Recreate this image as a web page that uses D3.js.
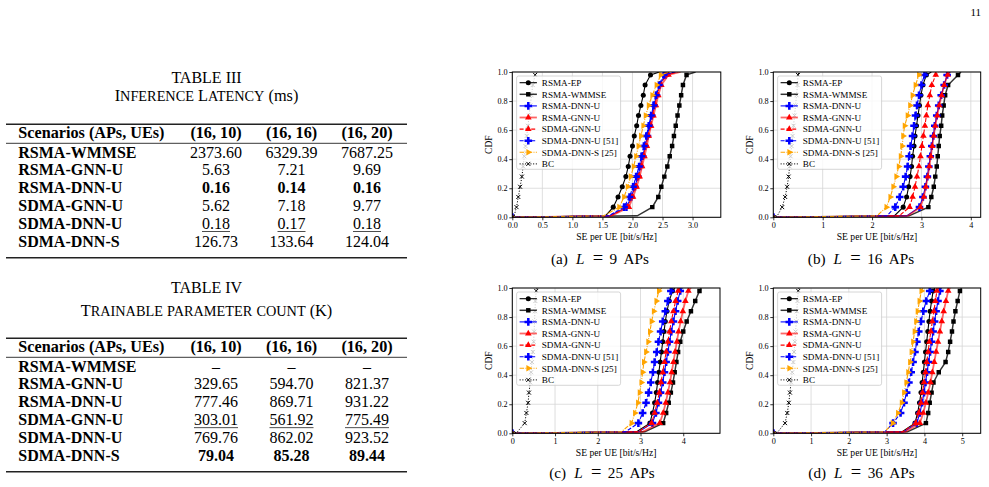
<!DOCTYPE html>
<html><head><meta charset="utf-8">
<script src="https://cdn.jsdelivr.net/npm/d3@7"></script>
<style>body{margin:0;background:#fff}svg{display:block}</style>
</head><body>
<svg id="fig" width="989" height="487"></svg>
<script>
// ---------------- DATA ----------------
const tableCols = ["(16, 10)", "(16, 16)", "(16, 20)"];
const rowNames = ["RSMA-WMMSE", "RSMA-GNN-U", "RSMA-DNN-U", "SDMA-GNN-U", "SDMA-DNN-U", "SDMA-DNN-S"];
const latencyVals = [[2373.60, 6329.39, 7687.25], [5.63, 7.21, 9.69], [0.16, 0.14, 0.16], [5.62, 7.18, 9.77], [0.18, 0.17, 0.18], [126.73, 133.64, 124.04]];
const paramVals = [[null, null, null], [329.65, 594.70, 821.37], [777.46, 869.71, 931.22], [303.01, 561.92, 775.49], [769.76, 862.02, 923.52], [79.04, 85.28, 89.44]];

const seriesNames = ["RSMA-EP", "RSMA-WMMSE", "RSMA-DNN-U", "RSMA-GNN-U", "SDMA-GNN-U", "SDMA-DNN-U [51]", "SDMA-DNN-S [25]", "BC"];
const cdfLevels = [0, 0.01, 0.07, 0.14, 0.21, 0.28, 0.35, 0.42, 0.49, 0.56, 0.63, 0.70, 0.77, 0.84, 0.91, 0.98, 1.0];

// SE per UE at each CDF level, one row per series (order of seriesNames)
const seL9 = [
  [0.00, 1.55, 1.68, 1.76, 1.83, 1.89, 1.93, 1.96, 2.00, 2.03, 2.07, 2.10, 2.14, 2.18, 2.21, 2.30, 2.45],
  [0.00, 2.08, 2.33, 2.43, 2.48, 2.53, 2.58, 2.62, 2.66, 2.69, 2.72, 2.75, 2.78, 2.81, 2.84, 2.90, 3.05],
  [0.00, 1.62, 1.90, 1.98, 2.04, 2.09, 2.13, 2.17, 2.21, 2.25, 2.28, 2.32, 2.36, 2.40, 2.45, 2.55, 2.72],
  [0.00, 1.65, 1.94, 2.01, 2.07, 2.12, 2.16, 2.20, 2.24, 2.27, 2.31, 2.35, 2.39, 2.43, 2.48, 2.60, 2.80],
  [0.00, 1.63, 1.92, 1.99, 2.05, 2.10, 2.14, 2.18, 2.22, 2.26, 2.30, 2.33, 2.37, 2.41, 2.46, 2.56, 2.75],
  [0.00, 1.60, 1.86, 1.95, 2.01, 2.06, 2.11, 2.15, 2.19, 2.23, 2.27, 2.31, 2.35, 2.39, 2.44, 2.52, 2.70],
  [0.00, 1.52, 1.78, 1.86, 1.92, 1.97, 2.02, 2.06, 2.10, 2.14, 2.18, 2.22, 2.27, 2.33, 2.40, 2.47, 2.60],
  [0.00, 0.03, 0.07, 0.10, 0.13, 0.16, 0.18, 0.20, 0.22, 0.24, 0.26, 0.28, 0.30, 0.32, 0.34, 0.38, 0.42]
];
const seL16 = [
  [0.00, 2.45, 2.63, 2.70, 2.74, 2.77, 2.80, 2.82, 2.85, 2.87, 2.90, 2.93, 2.96, 2.99, 3.03, 3.10, 3.20],
  [0.00, 2.75, 3.14, 3.20, 3.25, 3.28, 3.31, 3.33, 3.35, 3.37, 3.40, 3.42, 3.45, 3.48, 3.54, 3.74, 3.80],
  [0.00, 2.70, 2.96, 3.03, 3.08, 3.12, 3.15, 3.18, 3.21, 3.24, 3.27, 3.31, 3.35, 3.40, 3.46, 3.52, 3.58],
  [0.00, 2.72, 2.98, 3.05, 3.09, 3.13, 3.16, 3.19, 3.22, 3.25, 3.28, 3.32, 3.36, 3.41, 3.46, 3.53, 3.58],
  [0.00, 2.55, 2.76, 2.82, 2.87, 2.91, 2.95, 2.98, 3.01, 3.04, 3.07, 3.10, 3.13, 3.17, 3.21, 3.29, 3.35],
  [0.00, 2.30, 2.47, 2.56, 2.63, 2.68, 2.72, 2.75, 2.78, 2.82, 2.85, 2.88, 2.91, 2.95, 3.00, 3.06, 3.12],
  [0.00, 2.10, 2.29, 2.37, 2.43, 2.49, 2.54, 2.58, 2.61, 2.63, 2.66, 2.72, 2.77, 2.82, 2.88, 2.95, 3.00],
  [0.00, 0.08, 0.18, 0.24, 0.28, 0.31, 0.33, 0.35, 0.37, 0.39, 0.41, 0.43, 0.45, 0.47, 0.49, 0.50, 0.52]
];
const seL25 = [
  [0.00, 2.90, 3.22, 3.28, 3.33, 3.37, 3.40, 3.43, 3.46, 3.49, 3.52, 3.55, 3.58, 3.62, 3.67, 3.75, 3.80],
  [0.00, 3.10, 3.53, 3.60, 3.66, 3.71, 3.76, 3.80, 3.84, 3.88, 3.93, 4.00, 4.08, 4.18, 4.28, 4.38, 4.42],
  [0.00, 2.95, 3.28, 3.36, 3.42, 3.47, 3.52, 3.56, 3.60, 3.64, 3.68, 3.72, 3.77, 3.82, 3.87, 3.93, 3.98],
  [0.00, 3.05, 3.45, 3.53, 3.59, 3.64, 3.69, 3.73, 3.77, 3.81, 3.85, 3.89, 3.94, 3.99, 4.05, 4.12, 4.18],
  [0.00, 2.95, 3.26, 3.33, 3.39, 3.44, 3.48, 3.52, 3.56, 3.60, 3.64, 3.68, 3.72, 3.77, 3.82, 3.88, 3.92],
  [0.00, 2.65, 2.95, 3.05, 3.13, 3.19, 3.24, 3.29, 3.33, 3.38, 3.42, 3.47, 3.52, 3.58, 3.64, 3.71, 3.76],
  [0.00, 2.55, 2.79, 2.87, 2.94, 2.98, 3.02, 3.05, 3.08, 3.13, 3.18, 3.22, 3.26, 3.31, 3.37, 3.43, 3.50],
  [0.00, 0.12, 0.29, 0.33, 0.37, 0.39, 0.42, 0.44, 0.46, 0.48, 0.50, 0.51, 0.52, 0.53, 0.54, 0.56, 0.58]
];
const seL36 = [
  [0.00, 3.40, 3.75, 3.82, 3.87, 3.91, 3.94, 3.97, 4.00, 4.03, 4.06, 4.09, 4.12, 4.15, 4.19, 4.23, 4.28],
  [0.00, 3.55, 4.04, 4.10, 4.14, 4.19, 4.24, 4.38, 4.56, 4.63, 4.68, 4.73, 4.77, 4.82, 4.88, 4.94, 4.98],
  [0.00, 3.45, 3.80, 3.88, 3.94, 3.99, 4.03, 4.07, 4.11, 4.15, 4.19, 4.23, 4.27, 4.31, 4.36, 4.41, 4.45],
  [0.00, 3.50, 3.88, 3.97, 4.04, 4.10, 4.16, 4.21, 4.26, 4.31, 4.36, 4.41, 4.46, 4.51, 4.57, 4.63, 4.68],
  [0.00, 3.42, 3.77, 3.85, 3.91, 3.95, 3.99, 4.03, 4.06, 4.10, 4.13, 4.17, 4.21, 4.25, 4.29, 4.33, 4.38],
  [0.00, 2.95, 3.17, 3.37, 3.46, 3.53, 3.59, 3.65, 3.70, 3.75, 3.80, 3.85, 3.91, 3.97, 4.05, 4.14, 4.18],
  [0.00, 2.95, 3.16, 3.30, 3.40, 3.46, 3.52, 3.57, 3.62, 3.66, 3.70, 3.74, 3.78, 3.82, 3.87, 3.92, 3.96],
  [0.00, 0.12, 0.31, 0.37, 0.41, 0.44, 0.47, 0.50, 0.53, 0.55, 0.57, 0.59, 0.61, 0.62, 0.64, 0.66, 0.68]
];
const xTicksL9 = [0, 0.5, 1.0, 1.5, 2.0, 2.5, 3.0];
const xTicksL16 = [0, 1, 2, 3, 4];
const xTicksL25 = [0, 1, 2, 3, 4];
const xTicksL36 = [0, 1, 2, 3, 4, 5];
const yTicks = [0, 0.2, 0.4, 0.6, 0.8, 1.0];
const apCounts = ["9", "16", "25", "36"];

// ---------------- STYLES ----------------
const styles = [
  {color: "#000000", dash: null, marker: "circle", lw: 1.1, op: 1},
  {color: "#000000", dash: null, marker: "square", lw: 1.5, op: 0.8},
  {color: "#0000ff", dash: null, marker: "plus", lw: 1.1, op: 1},
  {color: "#ff0000", dash: null, marker: "tri", lw: 1.8, op: 0.6},
  {color: "#ff0000", dash: "4,1.8", marker: "tri", lw: 1.1, op: 1},
  {color: "#0000ff", dash: "4,1.8", marker: "plus", lw: 1.1, op: 1},
  {color: "#ffa500", dash: "4.5,1.3,1,1.3", marker: "triR", lw: 1.1, op: 1},
  {color: "#000000", dash: "1.1,1.6", marker: "x", lw: 1.0, op: 1}
];
const serif = "'Liberation Serif','Times New Roman',serif";
const pfont = "'Liberation Serif','Times New Roman',serif";
const svg = d3.select("#fig");

// fit a font size so that a sample string has a given width (matches reference text widths)
function fitSize(sample, family, weight, target) {
  const t = svg.append("text").style("font-family", family).style("font-size", "100px")
    .style("font-weight", weight).text(sample);
  const w = t.node().getComputedTextLength();
  t.remove();
  return 100 * target / w;
}
const legendFS = fitSize("SDMA-DNN-U [51]", pfont, "normal", 76.5);
const labelFS = fitSize("SE per UE [bit/s/Hz]", pfont, "normal", 80.7);
const tickFS = fitSize("0.5", pfont, "normal", 10.2);

// page number
svg.append("text").attr("x", 981).attr("y", 16).attr("text-anchor", "end")
  .style("font-family", serif).style("font-size", "11px").text("11");

// ---------------- TABLES ----------------
function drawTable(t) {
  const g = svg.append("g");
  const cx = 206.5;
  g.append("text").attr("x", cx).attr("y", t.titleY).attr("text-anchor", "middle")
    .style("font-family", serif).style("font-size", "16px").text(t.title);
  const st = g.append("text").attr("x", cx).attr("y", t.subY).attr("text-anchor", "middle")
    .style("font-family", serif);
  t.sub.forEach(p => {
    if (p[0]) st.append("tspan").style("font-size", "16.3px").text(p[0]);
    if (p[1]) st.append("tspan").style("font-size", "14.3px").text(p[1].toUpperCase());
  });
  const x0 = 6, x1 = 407;
  g.append("line").attr("x1", x0).attr("x2", x1).attr("y1", t.topRule).attr("y2", t.topRule).attr("stroke", "#222").attr("stroke-width", 1.4);
  g.append("line").attr("x1", x0).attr("x2", x1).attr("y1", t.topRule + 19).attr("y2", t.topRule + 19).attr("stroke", "#222").attr("stroke-width", 0.9);
  const colX = [216, 291.5, 367];
  const hy = t.topRule + 13.8;
  g.append("text").attr("x", 18.3).attr("y", hy).style("font-family", serif).style("font-size", "16.2px").style("font-weight", "bold").text("Scenarios (APs, UEs)");
  tableCols.forEach((c, j) => g.append("text").attr("x", colX[j]).attr("y", hy).attr("text-anchor", "middle")
    .style("font-family", serif).style("font-size", "16.2px").style("font-weight", "bold").text(c));
  const ry0 = t.topRule + 33.2, dy = 17.85;
  rowNames.forEach((r, i) => {
    const y = ry0 + i * dy;
    g.append("text").attr("x", 18.3).attr("y", y).style("font-family", serif).style("font-size", "16px").style("font-weight", "bold").text(r);
    t.vals[i].forEach((v, j) => {
      const tx = g.append("text").attr("x", colX[j]).attr("y", y).attr("text-anchor", "middle")
        .style("font-family", serif).style("font-size", "16px")
        .style("font-weight", i === t.boldRow ? "bold" : "normal")
        .text(v === null ? "\u2013" : v.toFixed(2));
      if (i === t.ulRow) {
        const w = tx.node().getComputedTextLength();
        g.append("line").attr("x1", colX[j] - w / 2).attr("x2", colX[j] + w / 2).attr("y1", y + 2.6).attr("y2", y + 2.6)
          .attr("stroke", "#000").attr("stroke-width", 0.7);
      }
    });
  });
  const by = ry0 + 5 * dy + 11;
  g.append("line").attr("x1", x0).attr("x2", x1).attr("y1", by).attr("y2", by).attr("stroke", "#222").attr("stroke-width", 1.4);
}
drawTable({title: "TABLE III", titleY: 83.3, subY: 101.2, sub: [["I", "nference"], [" L", "atency"], [" (ms)", ""]],
  topRule: 124.3, vals: latencyVals, boldRow: 2, ulRow: 4});
drawTable({title: "TABLE IV", titleY: 293.3, subY: 316.0, sub: [["T", "rainable"], [" ", "parameter"], [" ", "count"], [" (K)", ""]],
  topRule: 338.3, vals: paramVals, boldRow: 5, ulRow: 3});

// ---------------- CDF PANELS ----------------
const panels = [
  {data: seL9, ticks: xTicksL9, xmax: 3.47, fmt: d3.format(".1f"), left: 512.3, top: 72, w: 208.5, capX: 600, capY: 264.3, tag: "(a)"},
  {data: seL16, ticks: xTicksL16, xmax: 4.2, fmt: d3.format("d"), left: 773.3, top: 72, w: 207.4, capX: 861, capY: 264.3, tag: "(b)"},
  {data: seL25, ticks: xTicksL25, xmax: 4.86, fmt: d3.format("d"), left: 512.3, top: 288, w: 207.7, capX: 602, capY: 477.7, tag: "(c)"},
  {data: seL36, ticks: xTicksL36, xmax: 5.49, fmt: d3.format("d"), left: 773.3, top: 288, w: 207.4, capX: 861.5, capY: 477.7, tag: "(d)"}
];
const H = 145.3;

function markerPath(type) {
  switch (type) {
    case "circle": return d3.symbol(d3.symbolCircle, 20)();
    case "square": return d3.symbol(d3.symbolSquare, 20)();
    case "plus": return d3.symbol(d3.symbolCross, 32)();
    case "tri": return d3.symbol(d3.symbolTriangle, 19)();
    case "triR": return d3.symbol(d3.symbolTriangle, 19)();
    case "x": return "M-2,-2L2,2M-2,2L2,-2";
  }
}
function drawMarker(g, st, x, y) {
  const p = g.append("path").attr("d", markerPath(st.marker))
    .attr("transform", `translate(${x},${y})` + (st.marker === "triR" ? " rotate(90)" : ""));
  if (st.marker === "x") p.attr("fill", "none").attr("stroke", st.color).attr("stroke-width", 1);
  else p.attr("fill", st.color);
}

panels.forEach((P, pi) => {
  const g = svg.append("g").attr("transform", `translate(${P.left},${P.top})`);
  const x = d3.scaleLinear().domain([0, P.xmax]).range([0, P.w]);
  const y = d3.scaleLinear().domain([0, 1]).range([H, 0]);
  const cid = "clip" + pi;
  g.append("clipPath").attr("id", cid).append("rect").attr("width", P.w).attr("height", H);
  // grid
  g.append("g").selectAll("line").data(P.ticks).join("line")
    .attr("x1", d => x(d)).attr("x2", d => x(d)).attr("y1", 0).attr("y2", H)
    .attr("stroke", "#d6d6d6").attr("stroke-width", 0.8);
  g.append("g").selectAll("line").data(yTicks).join("line")
    .attr("x1", 0).attr("x2", P.w).attr("y1", d => y(d)).attr("y2", d => y(d))
    .attr("stroke", "#d6d6d6").attr("stroke-width", 0.8);
  // series
  const plot = g.append("g").attr("clip-path", `url(#${cid})`);
  const line = d3.line().x(d => x(d[0])).y(d => y(d[1]));
  P.data.forEach((vals, si) => {
    const st = styles[si];
    const pts = vals.map((v, k) => [v, cdfLevels[k]]);
    plot.append("path").attr("d", line(pts)).attr("fill", "none").attr("stroke", st.color)
      .attr("stroke-width", st.lw).attr("stroke-opacity", st.op)
      .attr("stroke-dasharray", st.dash);
    pts.forEach((p, k) => {
      if (k === 1 || k === cdfLevels.length - 1) return;
      drawMarker(plot, st, x(p[0]), y(p[1]));
    });
  });
  // axes
  const ax = g.append("g").attr("transform", `translate(0,${H})`)
    .call(d3.axisBottom(x).tickValues(P.ticks).tickFormat(P.fmt).tickSizeInner(3).tickSizeOuter(0).tickPadding(2.4));
  const ay = g.append("g").call(d3.axisLeft(y).tickValues(yTicks).tickFormat(d3.format(".1f")).tickSizeInner(3).tickSizeOuter(0).tickPadding(1.6));
  [ax, ay].forEach(a => {
    a.select(".domain").remove();
    a.selectAll("line").attr("stroke", "#000").attr("stroke-width", 0.8);
    a.selectAll("text").style("font-family", pfont).style("font-size", tickFS + "px").attr("fill", "#000");
  });
  g.append("rect").attr("width", P.w).attr("height", H).attr("fill", "none").attr("stroke", "#000").attr("stroke-width", 1);
  // labels
  g.append("text").attr("x", P.w / 2).attr("y", H + 22.4).attr("text-anchor", "middle")
    .style("font-family", pfont).style("font-size", labelFS + "px").text("SE per UE [bit/s/Hz]");
  g.append("text").attr("transform", `translate(-20.2,${H / 2}) rotate(-90)`).attr("text-anchor", "middle")
    .style("font-family", pfont).style("font-size", labelFS + "px").text("CDF");
  // legend
  const lg = g.append("g").attr("transform", "translate(4.3,4)");
  lg.append("rect").attr("width", 104).attr("height", 93.3).attr("rx", 2)
    .attr("fill", "#fff").attr("fill-opacity", 0.8).attr("stroke", "#cccccc").attr("stroke-width", 0.8);
  seriesNames.forEach((nm, i) => {
    const st = styles[i];
    const yy = 6.7 + i * 11.6;
    lg.append("line").attr("x1", 3).attr("x2", 20.3).attr("y1", yy).attr("y2", yy)
      .attr("stroke", st.color).attr("stroke-width", st.lw).attr("stroke-opacity", st.op).attr("stroke-dasharray", st.dash);
    drawMarker(lg, st, 11.7, yy);
    lg.append("text").attr("x", 25.2).attr("y", yy).attr("dy", "0.35em")
      .style("font-family", pfont).style("font-size", legendFS + "px").text(nm);
  });
  // caption  "(a) L = 9 APs"
  const cap = svg.append("text").attr("x", P.capX).attr("y", P.capY).attr("text-anchor", "middle")
    .style("font-family", serif).style("font-size", "15.2px");
  cap.append("tspan").text(P.tag);
  cap.append("tspan").attr("dx", 8).style("font-style", "italic").text("L");
  cap.append("tspan").attr("dx", 8.3).style("font-size", "18.5px").text("=");
  cap.append("tspan").attr("dx", 6.5).text(apCounts[pi]);
  cap.append("tspan").attr("dx", 6.4).text("APs");
});
</script>
</body></html>
